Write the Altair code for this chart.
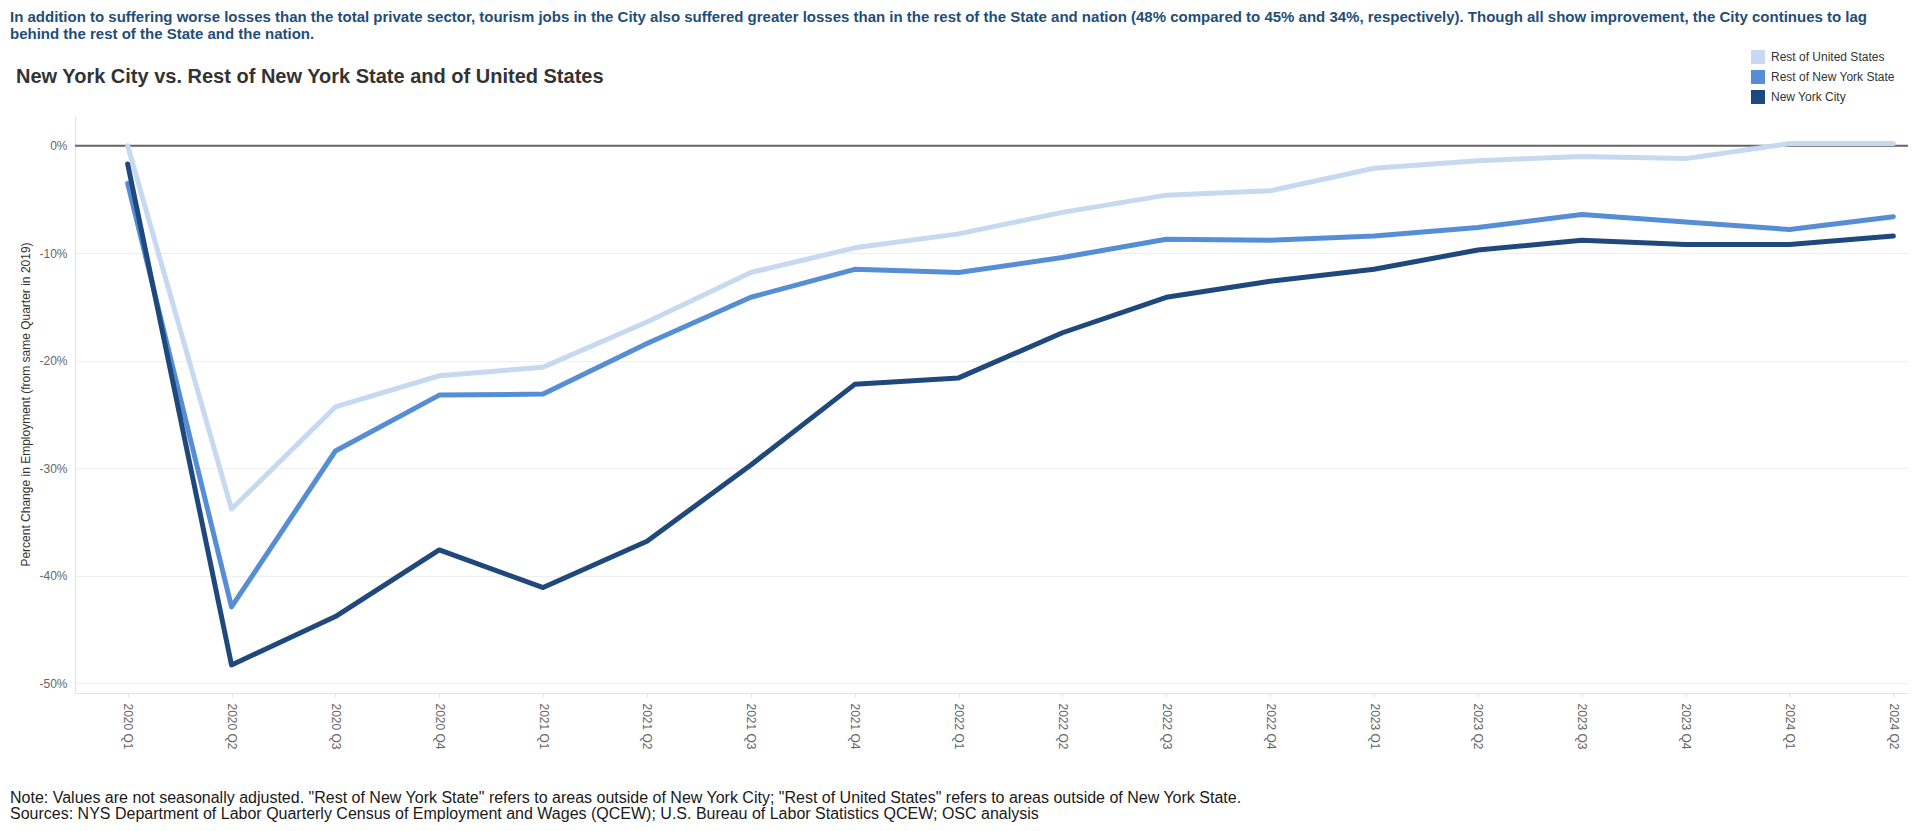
import altair as alt
import pandas as pd

# ---------------- data ----------------
quarters = ["2020 Q1", "2020 Q2", "2020 Q3", "2020 Q4",
            "2021 Q1", "2021 Q2", "2021 Q3", "2021 Q4",
            "2022 Q1", "2022 Q2", "2022 Q3", "2022 Q4",
            "2023 Q1", "2023 Q2", "2023 Q3", "2023 Q4",
            "2024 Q1", "2024 Q2"]
series_names = ["Rest of United States", "Rest of New York State", "New York City"]
rest_us = [0.0, -33.8, -24.3, -21.4, -20.6, -16.4, -11.8, -9.5, -8.2,
           -6.2, -4.6, -4.2, -2.1, -1.4, -1.0, -1.2, 0.2, 0.2]
rest_nys = [-3.5, -42.9, -28.4, -23.2, -23.1, -18.4, -14.1, -11.5, -11.8,
            -10.4, -8.7, -8.8, -8.4, -7.6, -6.4, -7.1, -7.8, -6.6]
nyc = [-1.7, -48.3, -43.8, -37.6, -41.1, -36.8, -29.7, -22.2, -21.6,
       -17.4, -14.1, -12.6, -11.5, -9.7, -8.8, -9.2, -9.2, -8.4]
series_colors = ["#C6D9F1", "#558ED5", "#1F497D"]
y_ticks = [0, -10, -20, -30, -40, -50]

header_lines = [
    "In addition to suffering worse losses than the total private sector, tourism jobs in the City also suffered greater losses than in the rest of the State and nation (48% compared to 45% and 34%, respectively). Though all show improvement, the City continues to lag",
    "behind the rest of the State and the nation.",
]
chart_title = ["New York City vs. Rest of New York State and of United States"]
note_lines = [
    "Note: Values are not seasonally adjusted. \"Rest of New York State\" refers to areas outside of New York City; \"Rest of United States\" refers to areas outside of New York State.",
    "Sources: NYS Department of Labor Quarterly Census of Employment and Wages (QCEW); U.S. Bureau of Labor Statistics QCEW; OSC analysis",
]
y_title = "Percent Change in Employment (from same Quarter in 2019)"

# ---------------- table ----------------
rows = []
for name, vals in zip(series_names, [rest_us, rest_nys, nyc]):
    for i, (q, v) in enumerate(zip(quarters, vals)):
        rows.append({"series": name, "idx": i, "quarter": q, "value": v})
df = pd.DataFrame(rows)

FONT = "Liberation Sans"
label_expr = "[" + ",".join("'" + q + "'" for q in quarters) + "][datum.value]"

x_scale = alt.Scale(domain=[-0.507, 17.141], nice=False, zero=False)
y_scale = alt.Scale(domain=[-50.91, 2.856], nice=False, zero=False)
color_scale = alt.Scale(domain=series_names, range=series_colors)

x_axis = alt.Axis(values=list(range(len(quarters))), labelExpr=label_expr,
                  labelAngle=90, title=None, grid=False, ticks=True, tickSize=4,
                  tickColor="#e3e3e3", domainColor="#e3e3e3", labelColor="#666666",
                  labelFontSize=12, labelFont=FONT, labelPadding=6,
                  labelFlush=False, labelOverlap=False, labelBound=False)
y_axis = alt.Axis(values=y_ticks, labelExpr="datum.value + '%'", title=y_title,
                  titleFontSize=12, titleFontWeight="normal", titleColor="#333333",
                  titleFont=FONT, titlePadding=6, ticks=False, labelPadding=8,
                  labelColor="#666666", labelFontSize=12, labelFont=FONT,
                  grid=True, gridColor="#efefef", domainColor="#e3e3e3",
                  labelFlush=False, labelOverlap=False)

x_enc = alt.X("idx:Q", scale=x_scale, axis=x_axis)
y_enc = alt.Y("value:Q", scale=y_scale, axis=y_axis)

zero_rule = alt.Chart(pd.DataFrame({"value": [0]})).mark_rule(
    color="#666666", strokeWidth=2
).encode(y=alt.Y("value:Q", scale=y_scale, title=y_title))

legend_layer = alt.Chart(df).mark_square(size=0, filled=True).encode(
    x=x_enc, y=y_enc,
    color=alt.Color("series:N", scale=color_scale,
                    legend=alt.Legend(title=None, orient="none", legendX=1676, legendY=-65,
                                      symbolType="square", symbolSize=196,
                                      symbolStrokeWidth=0, symbolOpacity=1,
                                      rowPadding=6, labelFontSize=12, labelFont=FONT,
                                      labelColor="#333333", labelOffset=6, padding=0)),
)

lines = alt.Chart(df).mark_line(strokeWidth=5, strokeCap="round", strokeJoin="round").encode(
    x=x_enc, y=y_enc,
    color=alt.Color("series:N", scale=color_scale, legend=None),
)


def text_layer(txt, x, y, size, weight, color):
    return alt.Chart(pd.DataFrame({"t": [txt]})).mark_text(
        align="left", baseline="middle", fontSize=size, fontWeight=weight,
        color=color, font=FONT
    ).encode(x=alt.value(x), y=alt.value(y), text="t:N")


texts = [
    text_layer(header_lines[0], -65, -98, 15, "bold", "#1F4E79"),
    text_layer(header_lines[1], -65, -81, 15, "bold", "#1F4E79"),
    text_layer(chart_title[0], -59, -38, 20, "bold", "#333333"),
    text_layer(note_lines[0], -65, 683, 16, "normal", "#1a1a1a"),
    text_layer(note_lines[1], -65, 699, 16, "normal", "#1a1a1a"),
]

chart = alt.layer(zero_rule, legend_layer, lines, *texts).resolve_legend(
    color="independent"
).properties(
    width=1833, height=578,
    autosize=alt.AutoSizeParams(type="none"),
    padding={"left": 67, "top": 107, "right": 3, "bottom": 130},
).configure(font=FONT).configure_view(stroke=None)

chart.save("out.html", embed_options={"renderer": "svg", "actions": False})
